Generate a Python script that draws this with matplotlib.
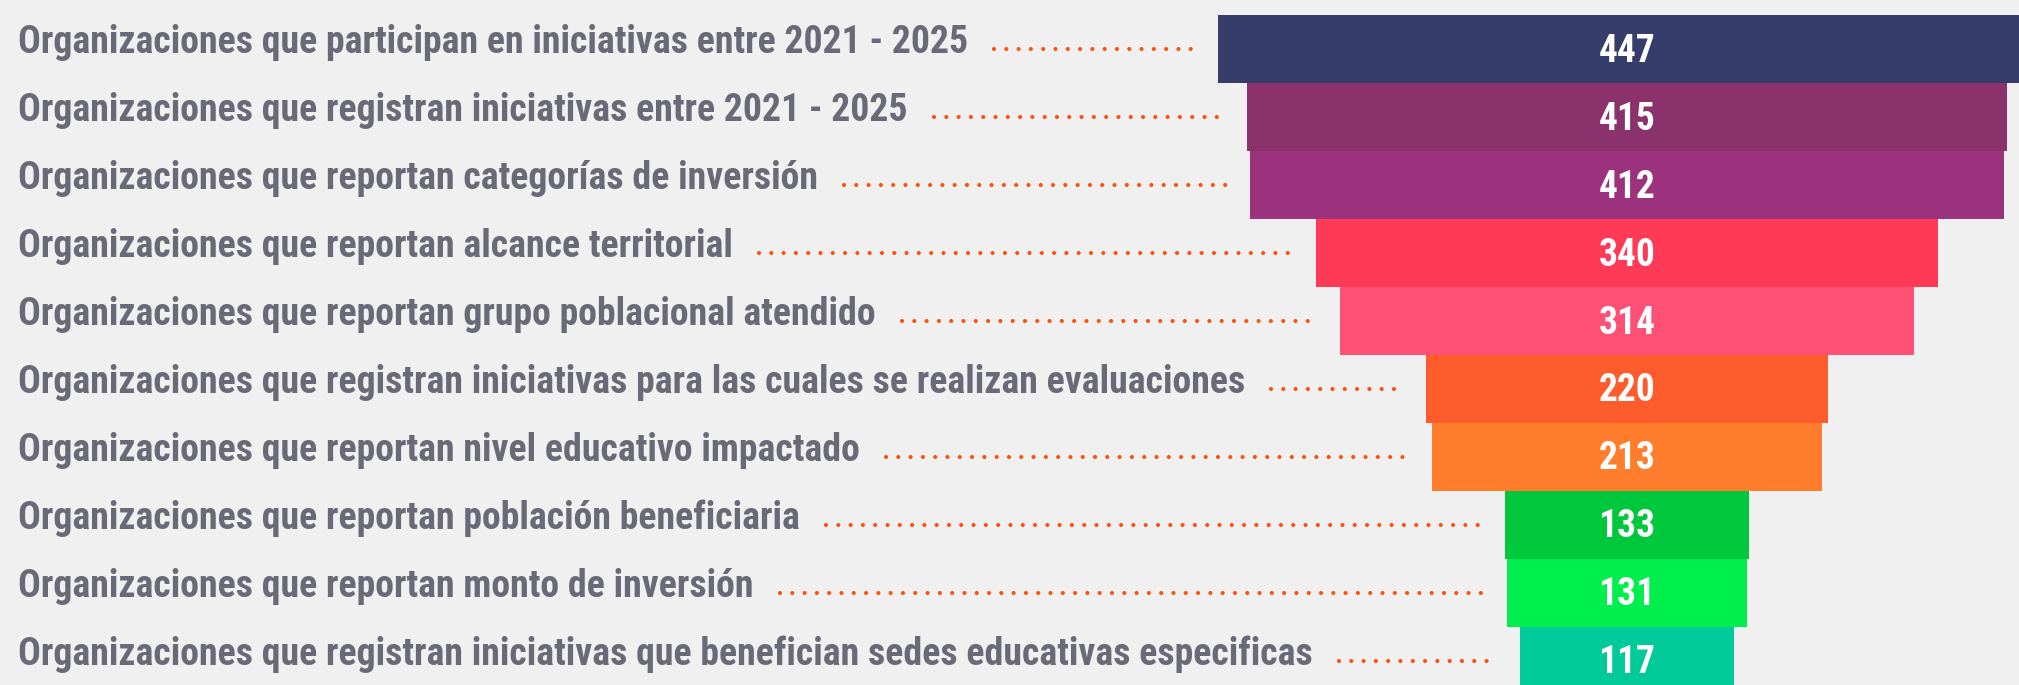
import matplotlib

matplotlib.use("Agg")
import matplotlib.pyplot as plt  # noqa: E402
import matplotlib.transforms as mtransforms  # noqa: E402
import numpy as np  # noqa: E402

labels = [
    "Organizaciones que participan en iniciativas entre 2021 - 2025",
    "Organizaciones que registran iniciativas entre 2021 - 2025",
    "Organizaciones que reportan categorías de inversión",
    "Organizaciones que reportan alcance territorial",
    "Organizaciones que reportan grupo poblacional atendido",
    "Organizaciones que registran iniciativas para las cuales se realizan evaluaciones",
    "Organizaciones que reportan nivel educativo impactado",
    "Organizaciones que reportan población beneficiaria",
    "Organizaciones que reportan monto de inversión",
    "Organizaciones que registran iniciativas que benefician sedes educativas especificas",
]
values = [447, 415, 412, 340, 314, 220, 213, 133, 131, 117]
colors = [
    "#363d6b", "#8b316b", "#9c317d", "#ff3a57", "#ff5075",
    "#ff5c2e", "#ff7d2d", "#00c83c", "#00ef4c", "#00c99a",
]

BG = "#f0f0f0"
TEXT_COLOR = "#6a6977"
DOT_COLOR = "#ff4f0a"
FONT = ["Roboto Condensed", "DejaVu Sans"]

W_PX, H_PX = 2019, 685
CENTER_PX = 1627      # horizontal centre of the funnel
PX_PER_UNIT = 1.83    # bar width scale
ROW_PX = 67.9         # bar height
TOP_PX = 15.5         # top of the first bar
LABEL_X_PX = 18
FIRST_LABEL_W_PX = 950  # width of the first label in the reference

fig = plt.figure(figsize=(W_PX / 100, H_PX / 100), dpi=100)
fig.patch.set_facecolor(BG)
ax = fig.add_axes([0, 0, 1, 1])
ax.set_facecolor(BG)
ax.set_xlim(-CENTER_PX / PX_PER_UNIT, (W_PX - CENTER_PX) / PX_PER_UNIT)
top = -0.5 - TOP_PX / ROW_PX
ax.set_ylim(top + H_PX / ROW_PX, top)
ax.axis("off")

vals = np.array(values, dtype=float)
idx = np.arange(len(values))
ax.barh(idx, vals, left=-vals / 2, height=1.0, color=colors, linewidth=0)

for i, v in enumerate(values):
    ax.text(0, i + 12.5 / ROW_PX, str(v), ha="center", va="baseline",
            color="white", fontsize=27, fontweight="bold", family=FONT)

trans = mtransforms.blended_transform_factory(ax.transAxes, ax.transData)
label_artists = []
for i, lab in enumerate(labels):
    t = ax.text(LABEL_X_PX / W_PX, i + 4 / ROW_PX, lab, transform=trans,
                ha="left", va="baseline", color=TEXT_COLOR, fontsize=26,
                fontweight="bold", family=FONT)
    label_artists.append(t)

# scale label size so the first label spans the same width as in the reference
fig.canvas.draw()
renderer = fig.canvas.get_renderer()
w0 = label_artists[0].get_window_extent(renderer).width
size = 26 * FIRST_LABEL_W_PX / w0
for t in label_artists:
    t.set_fontsize(size)

# dotted leaders between each label and its bar
fig.canvas.draw()
inv = ax.transData.inverted()
for i, t in enumerate(label_artists):
    x_end_px = t.get_window_extent(renderer).x1
    x0 = inv.transform((x_end_px + 26, 0))[0]
    x1 = -values[i] / 2 - 22 / PX_PER_UNIT
    if x1 > x0:
        ax.plot([x0, x1], [i, i], color=DOT_COLOR, linewidth=3.0,
                dashes=(0.001, 2.95), dash_capstyle="round",
                solid_capstyle="round")

fig.savefig("out.png", dpi=100, facecolor=BG)
